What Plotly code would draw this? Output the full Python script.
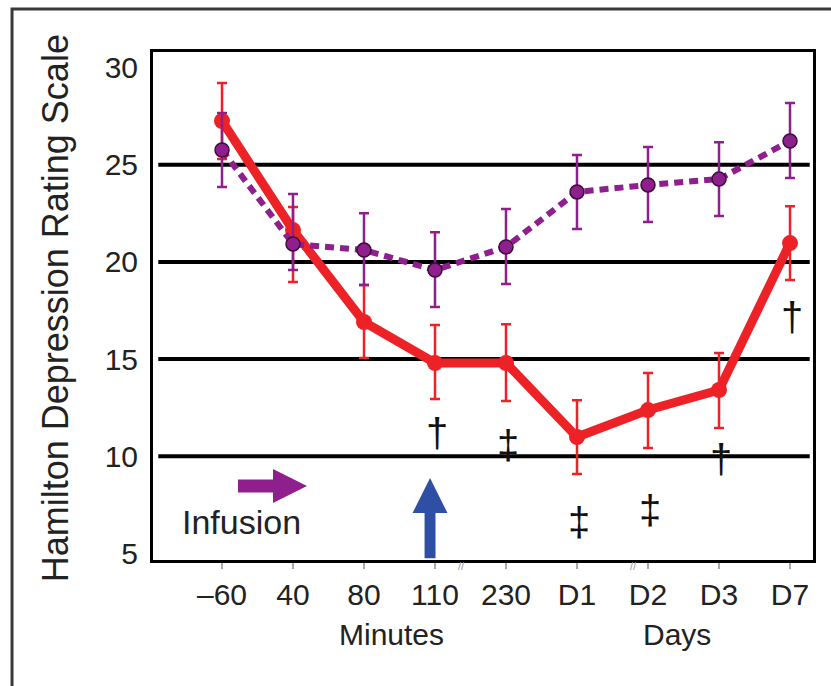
import plotly.graph_objects as go

# ---------------- data ----------------
categories = ["–60", "40", "80", "110", "230", "D1", "D2", "D3", "D7"]

# red (solid) series
red_values = [27.25, 21.64, 16.91, 14.80, 14.80, 10.99, 12.38, 13.41, 20.97]
red_err_plus = [1.95, 1.18, 1.90, 1.95, 2.00, 1.90, 1.90, 1.90, 1.90]
red_err_minus = [1.95, 2.67, 1.85, 1.85, 1.95, 1.90, 1.95, 1.95, 1.90]

# purple (dashed) series
purple_values = [25.76, 20.92, 20.61, 19.58, 20.77, 23.60, 23.96, 24.26, 26.22]
purple_err_plus = [1.90, 2.57, 1.90, 1.95, 1.95, 1.90, 1.95, 1.90, 1.95]
purple_err_minus = [1.90, 1.34, 1.80, 1.90, 1.90, 1.90, 1.90, 1.90, 1.90]

# significance marks: (category index, y, symbol)
sig_index = [3, 4, 5, 6, 7, 8]
sig_y = [11.20, 10.58, 6.62, 7.24, 9.86, 17.17]
sig_text = ["†", "‡", "‡", "‡", "†", "†"]

y_ticks = [5, 10, 15, 20, 25, 30]
grid_values = [10, 15, 20, 25]

RED = "#ED2227"
PURPLE = "#8E1F8D"
BLUE = "#2E4FA3"
FONT = "Liberation Sans, Arial, sans-serif"

x_pos = list(range(len(categories)))

fig = go.Figure()

fig.add_trace(go.Scatter(
    x=x_pos, y=red_values, mode="lines+markers",
    line=dict(color=RED, width=9),
    marker=dict(color=RED, size=16),
    error_y=dict(type="data", symmetric=False, array=red_err_plus,
                 arrayminus=red_err_minus, color=RED, thickness=2.5, width=5),
    showlegend=False,
))
fig.add_trace(go.Scatter(
    x=x_pos, y=purple_values, mode="lines+markers",
    line=dict(color=PURPLE, width=6, dash="9px,6px"),
    marker=dict(color=PURPLE, size=14, line=dict(color="#3d0c3c", width=1.5)),
    error_y=dict(type="data", symmetric=False, array=purple_err_plus,
                 arrayminus=purple_err_minus, color=PURPLE, thickness=2.5, width=5),
    showlegend=False,
))

shapes = []
for g in grid_values:
    shapes.append(dict(type="line", xref="paper", yref="y", x0=0.008, x1=0.995,
                       y0=g, y1=g, line=dict(color="black", width=4), layer="below"))

# purple horizontal arrow (infusion)
x0, xb, xt, yc, hs, hh = 0.225, 0.718, 1.197, 8.47, 0.334, 0.875
shapes.append(dict(type="path", xref="x", yref="y",
                   path=f"M{x0},{yc-hs} L{xb},{yc-hs} L{xb},{yc-hh} L{xt},{yc} "
                        f"L{xb},{yc+hh} L{xb},{yc+hs} L{x0},{yc+hs} Z",
                   fillcolor=PURPLE, line=dict(width=0)))
# blue vertical arrow
bx, sw, hw, ty, by, sy = 2.93, 0.077, 0.246, 8.88, 7.08, 4.75
shapes.append(dict(type="path", xref="x", yref="y",
                   path=f"M{bx-sw},{sy} L{bx-sw},{by} L{bx-hw},{by} L{bx},{ty} "
                        f"L{bx+hw},{by} L{bx+sw},{by} L{bx+sw},{sy} Z",
                   fillcolor=BLUE, line=dict(width=0)))
# outer frame (left and top edges)
shapes.append(dict(type="path", xref="paper", yref="paper",
                   path="M-0.2136,-0.3 L-0.2136,1.0846 L1.1,1.0846",
                   line=dict(color="#3a3a3a", width=3)))

annotations = []
for i, yv, t in zip(sig_index, sig_y, sig_text):
    annotations.append(dict(x=i, y=yv, xref="x", yref="y", text=t, showarrow=False,
                            xanchor="center", yanchor="middle",
                            font=dict(family=FONT, size=40, color="#111"), xshift=2))
annotations.append(dict(x=0.27, y=6.62, xref="x", yref="y", text="Infusion",
                        showarrow=False, xanchor="center",
                        font=dict(family=FONT, size=34, color="#222")))
annotations.append(dict(x=0.362, y=-0.146, xref="paper", yref="paper", text="Minutes",
                        showarrow=False, xanchor="center", yanchor="middle",
                        font=dict(family=FONT, size=30, color="#222")))
annotations.append(dict(x=0.794, y=-0.146, xref="paper", yref="paper", text="Days",
                        showarrow=False, xanchor="center", yanchor="middle",
                        font=dict(family=FONT, size=30, color="#222")))
annotations.append(dict(x=-0.148, y=0.496, xref="paper", yref="paper",
                        text="Hamilton Depression Rating Scale", textangle=-90,
                        showarrow=False, xanchor="center", yanchor="middle",
                        font=dict(family=FONT, size=36, color="#222")))
for bx_ in [3.38, 5.79]:
    annotations.append(dict(x=bx_, y=4.665, xref="x", yref="y", text="//",
                            showarrow=False, yanchor="top", yshift=2,
                            font=dict(family=FONT, size=11, color="#999")))

fig.update_layout(
    width=831, height=686,
    margin=dict(l=153, r=18, t=52, b=126),
    paper_bgcolor="white", plot_bgcolor="white",
    shapes=shapes, annotations=annotations,
    xaxis=dict(range=[-0.972, 8.324], tickvals=x_pos, ticktext=categories,
               showgrid=False, zeroline=False, showline=True, mirror=True,
               linecolor="black", linewidth=3, ticks="outside", ticklen=6,
               tickwidth=2, tickcolor="#aaaaaa", ticklabelstandoff=0,
               tickfont=dict(family=FONT, size=30, color="#222")),
    yaxis=dict(range=[4.665, 30.80], tickvals=y_ticks,
               showgrid=False, zeroline=False, showline=True, mirror=True,
               linecolor="black", linewidth=3, ticks="", ticklabelstandoff=6,
               tickfont=dict(family=FONT, size=30, color="#222")),
)

fig.write_html("out.html")
